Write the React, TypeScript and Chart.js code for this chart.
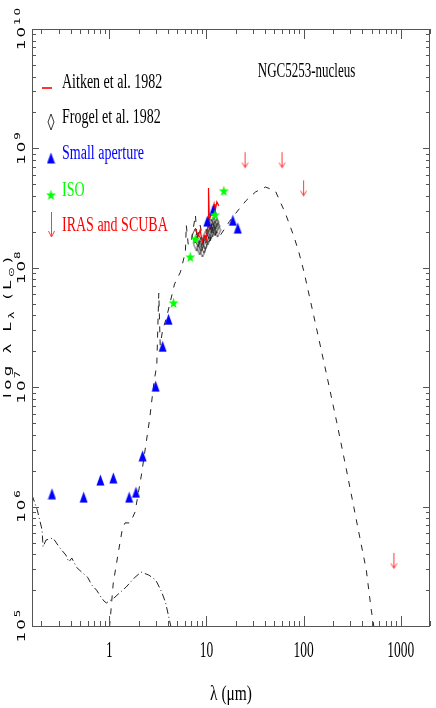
import React, { useEffect, useRef } from 'react';
import { Chart, registerables } from 'chart.js';
Chart.register(...registerables);

// ---------- DATA ----------
const xMin = 0.16;
const xMax = 2000;
const yMin = 1e5;
const yMax = 1e10;

const xTickValues = [1, 10, 100, 1000];
const xTickLabels = ['1', '10', '100', '1000'];
const yTickValues = [1e5, 1e6, 1e7, 1e8, 1e9, 1e10];
const yTickExponents = ['5', '6', '7', '8', '9', '10'];

const chartTitle = 'NGC5253-nucleus';
const xAxisTitle = 'λ (μm)';
const legendLabels = ['Aitken et al. 1982', 'Frogel et al. 1982', 'Small aperture', 'ISO', 'IRAS and SCUBA'];

// Small aperture (blue triangles)
const smallApLambda = [0.257, 0.544, 0.81, 1.1, 1.6, 1.88, 2.2, 3.0, 3.54, 4.07, 10.2, 11.7, 18.7, 21];
const smallApL = [1.28e6, 1.2e6, 1.67e6, 1.74e6, 1.2e6, 1.32e6, 2.66e6, 1.02e7, 2.2e7, 3.7e7, 2.46e8, 3.05e8, 2.5e8, 2.15e8];

// ISO (green stars)
const isoLambda = [4.58, 6.8, 7.67, 12.2, 15.1];
const isoL = [5.07e7, 1.23e8, 1.74e8, 2.77e8, 4.4e8];

// IRAS and SCUBA upper limits (red arrows)
const irasLambda = [25, 60, 100, 850];
const irasL = [9.3e8, 9.3e8, 5.4e8, 4.1e5];

// Aitken et al. 1982 (red spectrum)
const aitkenLambda = [7.67, 8.23, 8.62, 9.04, 9.47, 9.92, 10.4, 10.5, 10.7, 11.4, 11.96, 12.2, 12.8, 13.4];
const aitkenL = [2.15e8, 1.85e8, 2.07e8, 1.64e8, 1.85e8, 1.71e8, 2.24e8, 4.66e8, 2.51e8, 2.93e8, 3.42e8, 2.93e8, 3.56e8, 3.3e8];

// Frogel et al. 1982 (open diamonds)
const frogelLambda = [7.6, 7.9, 8.2, 8.5, 8.8, 9.1, 9.4, 9.7, 10.0, 10.3, 10.6, 10.9, 11.2, 11.5, 11.8, 12.1, 12.4, 12.7, 13.0];
const frogelL = [1.85e8, 1.58e8, 1.71e8, 1.47e8, 1.58e8, 1.41e8, 1.52e8, 1.64e8, 1.85e8, 1.78e8, 2.0e8, 1.92e8, 2.24e8, 2.07e8, 2.33e8, 2.15e8, 2.42e8, 2.24e8, 2.07e8];

// Dust model (dashed)
const modelLambda = [0.98, 1.098, 1.235, 1.356, 1.45, 1.64, 1.84, 2.14, 2.61, 2.87, 3.08, 3.23, 3.34, 3.54, 3.89, 4.69, 5.4, 6.07, 6.2, 6.5, 7.0, 7.7, 8.0, 8.6, 9.5, 11.0, 11.3, 12.0, 12.7, 13.5, 17.2, 21.3, 25.6, 32, 40.5, 51.2, 64.7, 79.8, 89.8, 101, 111, 137, 173, 219, 276, 349, 442, 497, 532, 560];
const modelL = [7.6e4, 2.29e5, 4.08e5, 6.37e5, 7.3e5, 7.3e5, 9.0e5, 1.84e6, 5.52e6, 1.08e7, 1.53e7, 6.15e7, 2.25e7, 3.01e7, 3.87e7, 7.31e7, 9.23e7, 1.36e8, 2.28e8, 1.55e8, 1.71e8, 2.77e8, 1.71e8, 2.28e8, 1.55e8, 1.71e8, 2.42e8, 1.78e8, 2.0e8, 1.81e8, 2.44e8, 3.05e8, 3.66e8, 4.32e8, 4.75e8, 4.4e8, 2.88e8, 1.81e8, 1.33e8, 9.23e7, 6.52e7, 3.01e7, 1.26e7, 5.12e6, 2.03e6, 7.73e5, 2.94e5, 1.36e5, 9.6e4, 6e4];

// Stellar component (dash-dot)
const starLambda = [0.16, 0.181, 0.203, 0.208, 0.223, 0.263, 0.31, 0.357, 0.383, 0.411, 0.46, 0.531, 0.6, 0.66, 0.738, 0.82, 0.88, 0.933, 1.12, 1.49, 1.8, 2.12, 2.55, 3.0, 3.46, 3.8, 4.27, 4.5];
const starL = [1.25e6, 9.4e5, 6.4e5, 4.6e5, 5.25e5, 5.46e5, 4.5e5, 3.93e5, 3.44e5, 3.71e5, 3.1e5, 2.78e5, 2.55e5, 2.2e5, 2.0e5, 1.75e5, 1.62e5, 1.56e5, 1.72e5, 2.12e5, 2.52e5, 2.83e5, 2.67e5, 2.43e5, 1.93e5, 1.56e5, 1.02e5, 8e4];

const BLUE = '#0000ff';
const GREEN = '#00ff00';
const RED = '#ff0000';
const FRAME = '#555555';

function pts(xs: number[], ys: number[]) {
  return xs.map((x, i) => ({ x, y: ys[i] }));
}

function makeCanvas(w: number, h: number, draw: (c: CanvasRenderingContext2D) => void) {
  const c = document.createElement('canvas');
  c.width = w;
  c.height = h;
  const ctx = c.getContext('2d')!;
  draw(ctx);
  return c;
}

function starPath(ctx: CanvasRenderingContext2D, cx: number, cy: number, ro: number, ri: number, sy: number) {
  ctx.beginPath();
  for (let i = 0; i < 10; i++) {
    const r = i % 2 === 0 ? ro : ri;
    const a = -Math.PI / 2 + (i * Math.PI) / 5;
    const px = cx + r * Math.cos(a);
    const py = cy + r * Math.sin(a) * sy;
    if (i === 0) ctx.moveTo(px, py);
    else ctx.lineTo(px, py);
  }
  ctx.closePath();
}

function arrowPath(ctx: CanvasRenderingContext2D, x: number, y0: number, y1: number, hw: number, hh: number) {
  ctx.beginPath();
  ctx.moveTo(x, y0);
  ctx.lineTo(x, y1);
  ctx.moveTo(x - hw, y1 - hh);
  ctx.lineTo(x, y1);
  ctx.lineTo(x + hw, y1 - hh);
  ctx.stroke();
}

function drawScaledText(ctx: CanvasRenderingContext2D, text: string, x: number, y: number, font: string, hs: number, align: string, color: string) {
  ctx.save();
  ctx.font = font;
  ctx.fillStyle = color;
  ctx.textAlign = 'left';
  ctx.textBaseline = 'alphabetic';
  const w = ctx.measureText(text).width * hs;
  const x0 = align === 'center' ? x - w / 2 : align === 'right' ? x - w : x;
  ctx.translate(x0, y);
  ctx.scale(hs, 1);
  ctx.fillText(text, 0, 0);
  ctx.restore();
}

type Seg = { t: string; sub?: boolean; sup?: boolean };
function drawRotSpaced(ctx: CanvasRenderingContext2D, segs: Seg[], bx: number, cy: number, size: number, hs: number, sp: number, color: string) {
  ctx.save();
  ctx.translate(bx, cy);
  ctx.rotate(-Math.PI / 2);
  ctx.fillStyle = color;
  ctx.textBaseline = 'alphabetic';
  ctx.textAlign = 'left';
  const items: { ch: string; fs: number; w: number; dy: number }[] = [];
  let total = 0;
  for (const s of segs) {
    for (const ch of Array.from(s.t)) {
      const fs = s.sub || s.sup ? size * 0.72 : size;
      ctx.font = `${fs}px "DejaVu Sans"`;
      const w = ctx.measureText(ch).width * hs;
      items.push({ ch, fs, w, dy: s.sub ? size * 0.3 : s.sup ? -size * 0.45 : 0 });
      total += w + sp;
    }
  }
  total -= sp;
  let x = -total / 2;
  for (const it of items) {
    ctx.save();
    ctx.font = `${it.fs}px "DejaVu Sans"`;
    ctx.translate(x, it.dy);
    ctx.scale(hs, 1);
    ctx.fillText(it.ch, 0, 0);
    ctx.restore();
    x += it.w + sp;
  }
  ctx.restore();
}

export default function App() {
  const ref = useRef<HTMLCanvasElement>(null);

  useEffect(() => {
    const canvas = ref.current!;

    const triImg = makeCanvas(9, 12, (c) => {
      c.fillStyle = BLUE;
      c.beginPath();
      c.moveTo(4.5, 0.5);
      c.lineTo(8.5, 11.5);
      c.lineTo(0.5, 11.5);
      c.closePath();
      c.fill();
    });
    const starImg = makeCanvas(11, 12, (c) => {
      c.fillStyle = GREEN;
      starPath(c, 5.5, 6.3, 5.2, 2.1, 1.12);
      c.fill();
    });
    const diaImg = makeCanvas(8, 16, (c) => {
      c.strokeStyle = '#222';
      c.lineWidth = 0.8;
      c.beginPath();
      c.moveTo(4, 1);
      c.lineTo(7, 8);
      c.lineTo(4, 15);
      c.lineTo(1, 8);
      c.closePath();
      c.stroke();
    });
    const arrowImg = makeCanvas(9, 34, (c) => {
      c.strokeStyle = '#ff3c3c';
      c.lineWidth = 1;
      arrowPath(c, 4.5, 17, 32.5, 3, 5);
    });

    const axesPlugin = {
      id: 'axesPlugin',
      afterDraw(chart: any) {
        const ctx: CanvasRenderingContext2D = chart.ctx;
        const xs = chart.scales.x;
        const ys = chart.scales.y;
        const { left, right, top, bottom } = chart.chartArea;
        ctx.save();
        ctx.strokeStyle = FRAME;
        ctx.lineWidth = 1;
        ctx.strokeRect(left + 0.5, top + 0.5, right - left - 1, bottom - top);
        ctx.beginPath();
        // x ticks
        for (let d = Math.floor(Math.log10(xMin)); d <= Math.ceil(Math.log10(xMax)); d++) {
          for (let m = 1; m <= 9; m++) {
            const v = m * Math.pow(10, d);
            if (v < xMin || v > xMax) continue;
            const px = Math.round(xs.getPixelForValue(v)) + 0.5;
            const len = m === 1 ? 10 : 5;
            ctx.moveTo(px, bottom);
            ctx.lineTo(px, bottom - len);
            ctx.moveTo(px, top);
            ctx.lineTo(px, top + len);
          }
        }
        // y ticks
        for (let d = 5; d <= 10; d++) {
          for (let m = 1; m <= 9; m++) {
            const v = m * Math.pow(10, d);
            if (v < yMin || v > yMax) continue;
            const py = Math.round(ys.getPixelForValue(v)) + 0.5;
            const len = m === 1 ? 7 : 4;
            ctx.moveTo(left, py);
            ctx.lineTo(left + len, py);
            ctx.moveTo(right, py);
            ctx.lineTo(right - len, py);
          }
        }
        ctx.stroke();
        ctx.restore();

        // x tick labels
        xTickValues.forEach((v, i) => {
          const px = xs.getPixelForValue(v);
          drawScaledText(ctx, xTickLabels[i], px, 657, '24px "Liberation Serif"', 0.56, 'center', '#000');
        });
        // y tick labels
        yTickValues.forEach((v, i) => {
          const py = ys.getPixelForValue(v);
          drawRotSpaced(ctx, [{ t: '10' }, { t: yTickExponents[i], sup: true }], 25, py, 11, 1.5, 2, '#000');
        });
        // axis titles
        drawScaledText(ctx, xAxisTitle, (left + right) / 2, 700, '22px "Liberation Serif"', 0.7, 'center', '#000');
        drawRotSpaced(
          ctx,
          [{ t: 'log λ L' }, { t: 'λ', sub: true }, { t: ' (L' }, { t: '⊙', sub: true }, { t: ')' }],
          11,
          (top + bottom) / 2,
          11,
          1.5,
          3.5,
          '#000'
        );
        // title
        drawScaledText(ctx, chartTitle, 306.5, 77, '20px "Liberation Serif"', 0.65, 'center', '#000');

        // legend
        const lf = '20px "Liberation Serif"';
        const lhs = 0.7;
        const lx = 62;
        ctx.save();
        ctx.strokeStyle = RED;
        ctx.lineWidth = 1.6;
        ctx.beginPath();
        ctx.moveTo(42, 88);
        ctx.lineTo(52, 88);
        ctx.stroke();
        drawScaledText(ctx, legendLabels[0], lx, 88, lf, lhs, 'left', '#000');

        ctx.strokeStyle = '#222';
        ctx.lineWidth = 0.9;
        ctx.beginPath();
        ctx.moveTo(51, 114);
        ctx.lineTo(54, 122);
        ctx.lineTo(51, 130);
        ctx.lineTo(48, 122);
        ctx.closePath();
        ctx.stroke();
        drawScaledText(ctx, legendLabels[1], lx, 123, lf, lhs, 'left', '#000');

        ctx.drawImage(triImg, 51 - 4.5, 158 - 6);
        drawScaledText(ctx, legendLabels[2], lx, 159, lf, lhs, 'left', BLUE);

        ctx.drawImage(starImg, 51 - 5.5, 195 - 6);
        drawScaledText(ctx, legendLabels[3], lx, 196, lf, lhs, 'left', GREEN);

        ctx.strokeStyle = '#ff3c3c';
        ctx.lineWidth = 1;
        arrowPath(ctx, 51.5, 212, 237, 3, 6);
        drawScaledText(ctx, legendLabels[4], lx, 231, lf, lhs, 'left', RED);
        ctx.restore();
      },
    };

    const chart = new Chart(canvas, {
      type: 'scatter',
      data: {
        datasets: [
          {
            label: 'ISO',
            data: pts(isoLambda, isoL),
            pointStyle: starImg as any,
            pointRadius: 5,
            showLine: false,
          },
          {
            label: 'Small aperture',
            data: pts(smallApLambda, smallApL),
            pointStyle: triImg as any,
            pointRadius: 5,
            showLine: false,
          },
          {
            label: 'IRAS and SCUBA',
            data: pts(irasLambda, irasL),
            pointStyle: arrowImg as any,
            pointRadius: 5,
            showLine: false,
          },
          {
            label: 'Aitken et al. 1982',
            data: pts(aitkenLambda, aitkenL),
            showLine: true,
            borderColor: RED,
            borderWidth: 1.2,
            pointRadius: 0,
          },
          {
            label: 'Frogel et al. 1982',
            data: pts(frogelLambda, frogelL),
            pointStyle: diaImg as any,
            pointRadius: 5,
            showLine: false,
          },
          {
            label: 'model',
            data: pts(modelLambda, modelL),
            showLine: true,
            borderColor: '#222',
            borderWidth: 1,
            borderDash: [6, 7],
            pointRadius: 0,
          },
          {
            label: 'stars',
            data: pts(starLambda, starL),
            showLine: true,
            borderColor: '#222',
            borderWidth: 1,
            borderDash: [7, 3, 1, 3],
            pointRadius: 0,
          },
        ],
      },
      options: {
        animation: false,
        responsive: false,
        maintainAspectRatio: false,
        devicePixelRatio: 1,
        layout: { padding: { left: 32, top: 29, right: 1, bottom: 82 } },
        plugins: { legend: { display: false }, tooltip: { enabled: false } },
        elements: { line: { tension: 0 } },
        scales: {
          x: { type: 'logarithmic', min: xMin, max: xMax, display: false },
          y: { type: 'logarithmic', min: yMin, max: yMax, display: false },
        },
      },
      plugins: [axesPlugin],
    });
    return () => chart.destroy();
  }, []);

  return (
    <div style={{ position: 'fixed', left: 0, top: 0, width: 436, height: 708, background: '#fff' }}>
      <canvas ref={ref} width={436} height={708} style={{ display: 'block' }} />
    </div>
  );
}
